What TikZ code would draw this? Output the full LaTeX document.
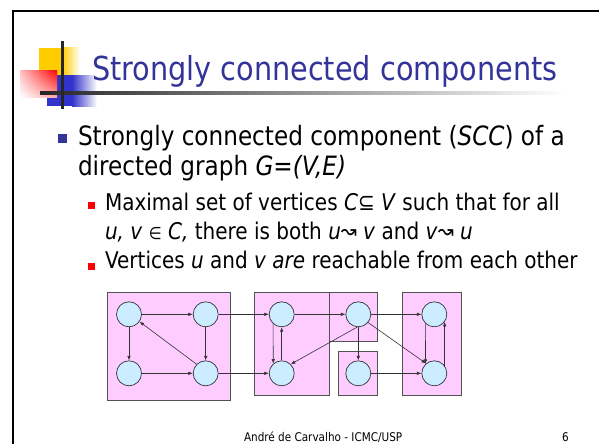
\documentclass[tikz,border=0pt]{standalone}
\usepackage{fontspec}
\setmainfont{DejaVu Sans}[FakeStretch=0.87]
\usetikzlibrary{arrows.meta,shadings}
\definecolor{titleblue}{HTML}{333399}
\definecolor{boxpink}{HTML}{FFCCFF}
\definecolor{nodeblue}{HTML}{CCECFF}
\definecolor{edgegray}{HTML}{333333}
\definecolor{logoyellow}{HTML}{FFCC00}
\definecolor{logoblue}{HTML}{3333CC}
\definecolor{bulletred}{HTML}{FF0000}
\begin{document}
\begin{tikzpicture}[x=1pt,y=-1pt,
  vtx/.style={circle, draw=edgegray, fill=nodeblue, minimum size=25pt, inner sep=0pt, line width=0.7pt},
  comp/.style={draw=edgegray!85, fill=boxpink, line width=0.8pt},
  arc/.style={draw=edgegray, line width=0.6pt, -{Latex[length=4.5pt,width=3.5pt]}},
  txt/.style={anchor=base west, inner sep=0pt, outer sep=0pt},
]
\useasboundingbox (0,0) rectangle (599,444);
% frame
\draw[line width=2pt] (13,444) -- (13,11) -- (599,11);
% logo
\fill[logoyellow] (39,48) rectangle (62,75);
\shade[left color=logoyellow, right color=white] (62,48) rectangle (80,75);
\fill[logoblue] (47,75) rectangle (72,106);
\shade[left color=logoblue, right color=white] (72,75) rectangle (97,106);
\shade[upper right=red, upper left=red!25, lower right=red!35, lower left=white] (20,70) rectangle (57,97);
\shade[left color=black!85, right color=white] (40,91.5) rectangle (565,94.5);
\fill[black!85] (60.5,41) rectangle (63.5,109);
% title
\node[txt, text=titleblue] (title) at (92,80) {\fontsize{33}{40}\selectfont Strongly connected components};
% bullets
\fill[titleblue] (57.5,133.5) rectangle (66.5,142.5);
\node[txt] (l1) at (78,145) {\fontsize{26.6}{32}\selectfont Strongly connected component (\textit{SCC}) of a};
\node[txt] (l2) at (78,175) {\fontsize{26.6}{32}\selectfont directed graph \textit{G=(V,E)}};
\fill[bulletred] (87.5,202) rectangle (94.5,209);
\node[txt] (l3) at (105,210) {\fontsize{23}{28}\selectfont Maximal set of vertices \textit{C}⊆ \textit{V} such that for all};
\node[txt] (l4) at (105,239) {\fontsize{23}{28}\selectfont \textit{u, v} {\fontsize{17}{17}\selectfont ∈} \textit{C,} there is both \textit{u}\raisebox{1pt}{\scalebox{0.95}{↝}} \textit{v} and \textit{v}\raisebox{1pt}{\scalebox{0.95}{↝}} \textit{u}};
\fill[bulletred] (87.5,263) rectangle (94.5,270);
\node[txt] (l5) at (105,268) {\fontsize{23}{28}\selectfont Vertices \textit{u} and \textit{v are} reachable from each other};
% footer
\node[txt] (foot) at (244,441) {\fontsize{12}{14}\selectfont André de Carvalho - ICMC/USP};
\node[txt] (pg) at (562,441) {\fontsize{12}{14}\selectfont 6};
% components
\draw[comp] (107.3,292.3) rectangle (230,400.7);
\draw[comp] (254.3,292.3) rectangle (329.3,395);
\draw[comp] (329.3,292.3) rectangle (377.7,341.7);
\draw[comp] (338.3,351) rectangle (377.7,395);
\draw[comp] (402.7,292.3) rectangle (461.7,395);
% vertices
\node[vtx] (A) at (129,314.3) {};
\node[vtx] (B) at (205.7,314.3) {};
\node[vtx] (C) at (129,373.3) {};
\node[vtx] (D) at (205.7,373.3) {};
\node[vtx] (E) at (281.7,314.3) {};
\node[vtx] (F) at (281.7,373.3) {};
\node[vtx] (G) at (358.3,314.3) {};
\node[vtx] (H) at (358.3,373.3) {};
\node[vtx] (I) at (434.3,314.3) {};
\node[vtx] (J) at (434.3,373.3) {};
% edges
\draw[arc] (A) -- (B);
\draw[arc] (A) -- (C);
\draw[arc] (B) -- (D);
\draw[arc] (D.135) -- (A.-35);
\draw[arc] (C) -- (D);
\draw[arc] (B) -- (E);
\draw[arc] (D) -- (F);
\draw[arc] (E.228.8) -- (F.131.2);
\draw[arc] (F) -- (E);
\draw[arc] (E) -- (G);
\draw[arc] (G.265) -- (F.45);
\draw[arc] (G) -- (H);
\draw[arc] (G) -- (I);
\draw[arc] (G.-40) -- (J.130);
\draw[arc] (H) -- (J);
\draw[arc] (I.226.5) -- (J.133.5);
\draw[arc] (J.36.9) -- (I.-36.9);
\end{tikzpicture}
\end{document}
